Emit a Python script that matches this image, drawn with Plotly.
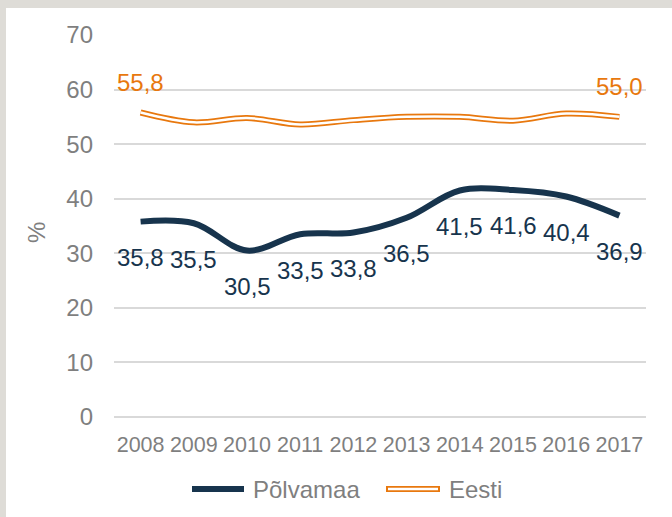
import plotly.graph_objects as go

years = [2008, 2009, 2010, 2011, 2012, 2013, 2014, 2015, 2016, 2017]
polvamaa = [35.8, 35.5, 30.5, 33.5, 33.8, 36.5, 41.5, 41.6, 40.4, 36.9]
eesti = [55.8, 54.0, 54.8, 53.6, 54.4, 55.0, 55.0, 54.3, 55.6, 55.0]
eesti_label_idx = [0, 9]
y_ticks = [0, 10, 20, 30, 40, 50, 60, 70]
series_names = ["Põlvamaa", "Eesti"]
y_title = "%"

NAVY = "#17344d"
ORANGE = "#e8780e"
GRAY = "#7f7f7f"
FONT = "Liberation Sans, Arial, sans-serif"


def fmt(v):
    return f"{v:.1f}".replace(".", ",")


fig = go.Figure()
fig.add_trace(go.Scatter(x=years, y=polvamaa, mode="lines", name=series_names[0],
                         line=dict(color=NAVY, width=6, shape="spline", smoothing=1.0),
                         showlegend=False))
fig.add_trace(go.Scatter(x=years, y=eesti, mode="lines", name=series_names[1],
                         line=dict(color=ORANGE, width=6, shape="spline", smoothing=1.0),
                         showlegend=False))
fig.add_trace(go.Scatter(x=years, y=eesti, mode="lines", name=series_names[1] + "_inner",
                         line=dict(color="white", width=2.5, shape="spline", smoothing=1.0),
                         showlegend=False, hoverinfo="skip"))

annotations = []
for x, v in zip(years, polvamaa):
    annotations.append(dict(x=x, y=v, text=fmt(v), showarrow=False, yshift=-36,
                            xanchor="center", yanchor="middle",
                            font=dict(family=FONT, size=24, color=NAVY)))
for i in eesti_label_idx:
    annotations.append(dict(x=years[i], y=eesti[i], text=fmt(eesti[i]), showarrow=False,
                            yshift=30, xanchor="center", yanchor="middle",
                            font=dict(family=FONT, size=24, color=ORANGE)))

# custom legend
L = 114.0
PW = 532.0
T = 35.0
PH = 382.0


def px(xp):
    return (xp - L) / PW


def py(yp):
    return (T + PH - yp) / PH


leg_y = py(489)
annotations.append(dict(xref="paper", yref="paper", x=px(251), y=leg_y, text=series_names[0],
                        showarrow=False, xanchor="left", yanchor="middle",
                        font=dict(family=FONT, size=24, color=GRAY)))
annotations.append(dict(xref="paper", yref="paper", x=px(447), y=leg_y, text=series_names[1],
                        showarrow=False, xanchor="left", yanchor="middle",
                        font=dict(family=FONT, size=24, color=GRAY)))
# y-axis title
annotations.append(dict(xref="paper", yref="paper", x=px(37), y=py(233), text=y_title,
                        showarrow=False, xanchor="center", yanchor="middle", textangle=-90,
                        font=dict(family=FONT, size=24, color=GRAY)))

shapes = [
    # frame (top and left)
    dict(type="rect", xref="paper", yref="paper", x0=px(0), x1=px(672), y0=py(8), y1=py(0),
         fillcolor="#dedcd7", line=dict(width=0), layer="below"),
    dict(type="rect", xref="paper", yref="paper", x0=px(0), x1=px(6), y0=py(517), y1=py(0),
         fillcolor="#dedcd7", line=dict(width=0), layer="below"),
    # legend samples
    dict(type="line", xref="paper", yref="paper", x0=px(192), x1=px(244), y0=leg_y, y1=leg_y,
         line=dict(color=NAVY, width=6)),
    dict(type="line", xref="paper", yref="paper", x0=px(386), x1=px(440), y0=leg_y, y1=leg_y,
         line=dict(color=ORANGE, width=6)),
    dict(type="line", xref="paper", yref="paper", x0=px(388), x1=px(438), y0=leg_y, y1=leg_y,
         line=dict(color="white", width=2.5)),
]

fig.update_layout(
    width=672, height=517,
    margin=dict(l=114, r=26, t=35, b=100, pad=0),
    paper_bgcolor="white", plot_bgcolor="white",
    font=dict(family=FONT, color=GRAY),
    showlegend=False,
    annotations=annotations,
    shapes=shapes,
    xaxis=dict(range=[2007.5, 2017.5], tickvals=years, ticktext=[str(y) for y in years],
               showgrid=False, zeroline=False, showline=False, ticks="",
               tickfont=dict(family=FONT, size=21.5, color=GRAY), ticklabelstandoff=12,
               fixedrange=True),
    yaxis=dict(range=[0, 70], tickvals=y_ticks, showgrid=True, gridcolor="#d9d9d9", gridwidth=2,
               zeroline=True, zerolinecolor="#d9d9d9", zerolinewidth=2, showline=False, ticks="",
               tickfont=dict(family=FONT, size=24, color=GRAY), ticklabelstandoff=20,
               fixedrange=True),
)

fig.write_html("out.html", config={"displayModeBar": False},
               post_script="document.body.style.margin='0';document.body.style.overflow='hidden';")
